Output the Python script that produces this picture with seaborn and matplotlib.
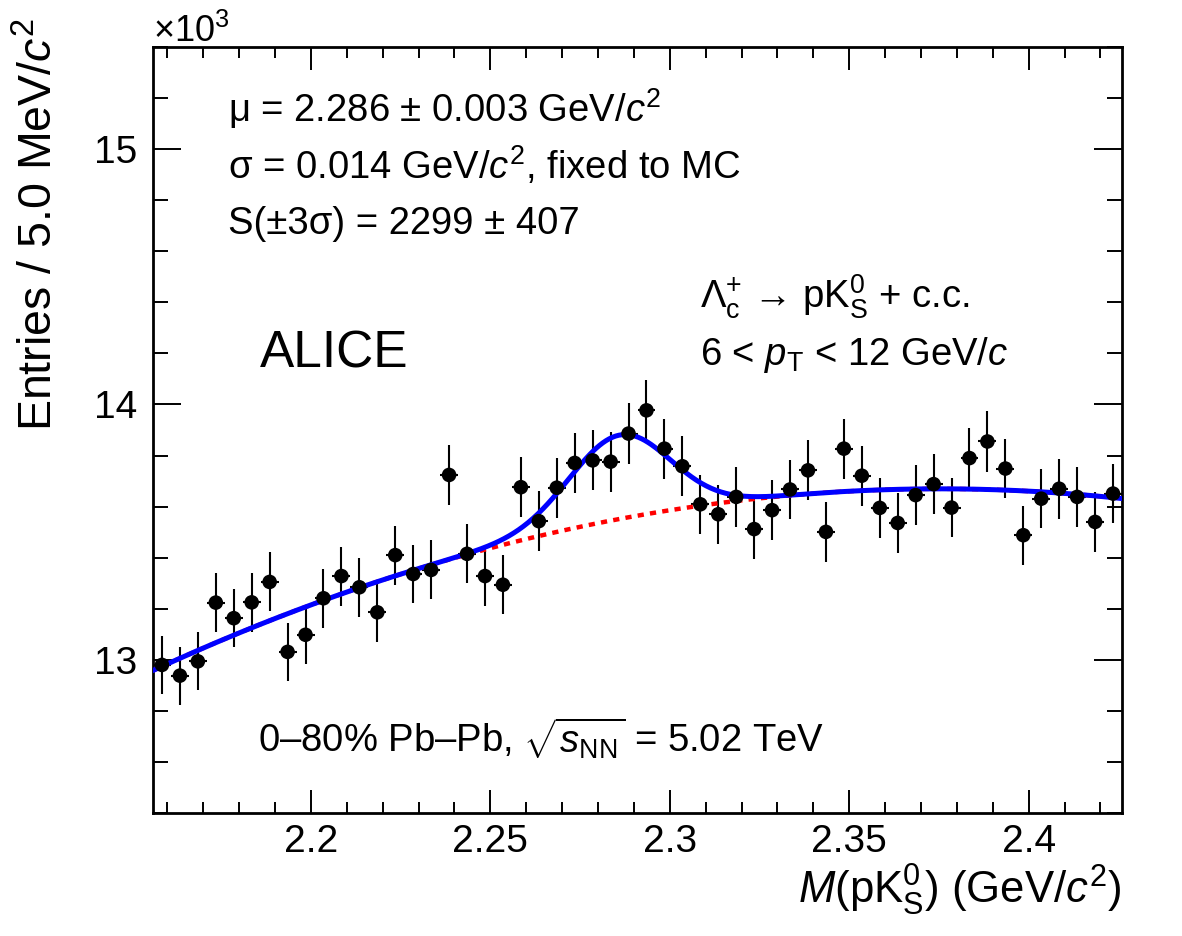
import numpy as np
import pandas as pd
import matplotlib
matplotlib.use("Agg")
import matplotlib.pyplot as plt
from matplotlib.ticker import MultipleLocator, FuncFormatter
import seaborn as sns

# histogram binning (GeV/c2)
mass_lo = 2.156
mass_hi = 2.426
bin_width = 0.005

# entries per 5 MeV/c2 bin
counts = [12980, 12938, 12994, 13224, 13163, 13225, 13305, 13031, 13098, 13241,
          13328, 13284, 13186, 13410, 13336, 13352, 13724, 13415, 13328, 13294,
          13676, 13543, 13674, 13771, 13781, 13776, 13886, 13977, 13827, 13758,
          13609, 13570, 13638, 13512, 13586, 13667, 13742, 13501, 13827, 13721,
          13595, 13536, 13645, 13688, 13596, 13790, 13855, 13749, 13488, 13631,
          13670, 13638, 13540, 13651]

# fit parameters
mu = 2.286
sigma = 0.014
signal = 2299
bkg_x0 = 2.29
bkg_pars = [13562, 2524, -14800]   # pol2 in (m - bkg_x0)

centres = mass_lo + bin_width * (np.arange(len(counts)) + 0.5)
df = pd.DataFrame({"mass": centres, "entries": counts})
df["err"] = np.sqrt(df["entries"])

m = np.linspace(mass_lo, mass_hi, 600)
t = m - bkg_x0
bkg = bkg_pars[0] + bkg_pars[1] * t + bkg_pars[2] * t ** 2
amp = signal / 0.9973 * bin_width / (np.sqrt(2 * np.pi) * sigma)
total = bkg + amp * np.exp(-0.5 * ((m - mu) / sigma) ** 2)
fit = pd.DataFrame({"mass": m, "bkg": bkg, "total": total})

sns.set_theme(style="ticks")
plt.rcParams["font.family"] = ["Liberation Sans", "DejaVu Sans"]
plt.rcParams["mathtext.fontset"] = "custom"
plt.rcParams["mathtext.rm"] = "Liberation Sans"
plt.rcParams["mathtext.it"] = "Liberation Sans:italic"
plt.rcParams["mathtext.bf"] = "Liberation Sans:bold"
for k in ["text.color", "axes.labelcolor", "xtick.color", "ytick.color", "axes.edgecolor"]:
    plt.rcParams[k] = "black"

W, H = 1182, 936
fig = plt.figure(figsize=(W / 100, H / 100), dpi=100)
ax = fig.add_axes([153 / W, 1 - 813 / H, (1122 - 153) / W, (813 - 47) / H])

ax.errorbar(df["mass"], df["entries"], yerr=df["err"], xerr=bin_width / 2,
            fmt="none", ecolor="black", elinewidth=1.5, capsize=0, zorder=2)
sns.lineplot(data=fit, x="mass", y="bkg", ax=ax, color="#ff0000", lw=3.2,
             dashes=False, zorder=3)
ax.lines[-1].set_dashes((1.4, 1.4))
sns.lineplot(data=fit, x="mass", y="total", ax=ax, color="#0000ff", lw=3.6, zorder=4)
sns.scatterplot(data=df, x="mass", y="entries", ax=ax, color="black", s=110,
                edgecolor="none", zorder=5)

ax.set_xlim(mass_lo, mass_hi)
ax.set_ylim(12400, 15400)
ax.xaxis.set_major_locator(MultipleLocator(0.05))
ax.xaxis.set_minor_locator(MultipleLocator(0.01))
ax.yaxis.set_major_locator(MultipleLocator(1000))
ax.yaxis.set_minor_locator(MultipleLocator(200))
ax.xaxis.set_major_formatter(FuncFormatter(lambda v, p: f"{v:g}"))
ax.yaxis.set_major_formatter(FuncFormatter(lambda v, p: f"{v / 1000:g}"))
ax.tick_params(which="both", direction="in", top=True, right=True, width=1.4,
               labelsize=28, color="black", labelcolor="black")
ax.tick_params(axis="x", which="major", length=16.5, pad=8)
ax.tick_params(axis="x", which="minor", length=8)
ax.tick_params(axis="y", which="major", length=20.5, pad=11)
ax.tick_params(axis="y", which="minor", length=10.5)
for s in ax.spines.values():
    s.set_linewidth(2)
    s.set_color("black")
ax.set_xlabel("")
ax.set_ylabel("")

fs_txt = 27.5
fig.text(153 / W, 1 - 42 / H, r"$\times$10$^{3}$", fontsize=26, ha="left", va="baseline")
fig.text(40 / W, 1 - 18 / H, r"Entries / 5.0 MeV/$c^{2}$", fontsize=33.5, rotation=90,
         ha="center", va="top")
fig.text(1122 / W, 1 - 904 / H, r"$M$(pK$^{0}_{\mathrm{S}}$) (GeV/$c^{2}$)", fontsize=31.5,
         ha="right", va="baseline")
fig.text(228 / W, 1 - 121.5 / H, r"μ = 2.286 ± 0.003 GeV/$c^{2}$", fontsize=fs_txt,
         ha="left", va="baseline")
fig.text(228 / W, 1 - 178.5 / H, r"σ = 0.014 GeV/$c^{2}$, fixed to MC", fontsize=fs_txt,
         ha="left", va="baseline")
fig.text(228 / W, 1 - 233.5 / H, "S(±3σ) = 2299 ± 407", fontsize=fs_txt,
         ha="left", va="baseline")
fig.text(700 / W, 1 - 308 / H, r"$\Lambda_{\mathrm{c}}^{+}$ → pK$^{0}_{\mathrm{S}}$ + c.c.",
         fontsize=fs_txt, ha="left", va="baseline")
fig.text(700 / W, 1 - 365 / H, r"6 < $p_{\mathrm{T}}$ < 12 GeV/$c$", fontsize=fs_txt,
         ha="left", va="baseline")
fig.text(260 / W, 1 - 368 / H, "ALICE", fontsize=37, ha="left", va="baseline")
fig.text(258 / W, 1 - 753 / H, r"0–80% Pb–Pb, $\sqrt{s_{\mathrm{NN}}}$ = 5.02 TeV",
         fontsize=fs_txt, ha="left", va="baseline")

fig.savefig("out.png", dpi=100)
